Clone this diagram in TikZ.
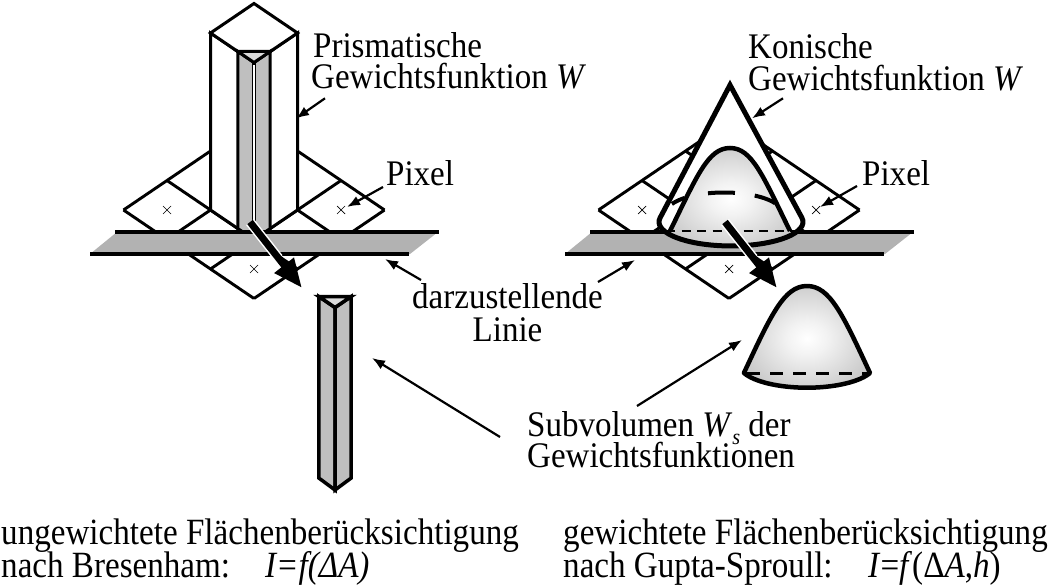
\documentclass[tikz,border=0pt]{standalone}
\usepackage{fontspec}
\setmainfont{Liberation Serif}
\newfontfamily\lblfont[FakeStretch=0.917]{Liberation Serif}
\newfontfamily\btmfont[FakeStretch=0.895]{Liberation Serif}
\usetikzlibrary{arrows.meta,calc}
\definecolor{bandgray}{gray}{0.70}
\definecolor{colgray}{gray}{0.75}
\definecolor{topgray}{gray}{0.86}
\pgfdeclareradialshading{bellshade}{\pgfpoint{0bp}{0bp}}{color(0bp)=(white); color(8bp)=(white!95!black); color(50bp)=(black!40); color(75bp)=(black!40)}
\newcommand{\pixgrid}[1]{%
  \begin{scope}[shift={#1}]
    \fill[white] (0,-88.5) -- (130.5,0) -- (0,88.5) -- (-130.5,0) -- cycle;
    \foreach \k in {-1.5,-0.5,0.5,1.5}{
      \draw[gridline] ({43.5*(\k+1.5)},{29.5*(\k-1.5)}) -- ({43.5*(\k-1.5)},{29.5*(\k+1.5)});
      \draw[gridline] ({43.5*(-1.5-\k)},{29.5*(-1.5+\k)}) -- ({43.5*(1.5-\k)},{29.5*(1.5+\k)});
    }
  \end{scope}}
\newcommand{\pixmark}[1]{\draw[marks] #1 ++(-4,-4) -- ++(8,8) #1 ++(-4,4) -- ++(8,-8);}
\begin{document}
\begin{tikzpicture}[x=1pt,y=-1pt,
  gridline/.style={line width=2.9pt},
  marks/.style={line width=0.7pt},
  edge/.style={line width=3pt, line join=miter},
  ptr/.style={line width=2.2pt, -{Latex[length=13pt,width=10pt]}},
  bigarrow/.style={line width=7pt, -{Triangle[length=29pt,width=23pt]}},
  lbl/.style={font=\lblfont\fontsize{36}{36}\selectfont, inner sep=0pt, anchor=base west},
  lblc/.style={font=\lblfont\fontsize{36}{36}\selectfont, inner sep=0pt, anchor=base},
  btm/.style={font=\btmfont\fontsize{37}{37}\selectfont, inner sep=0pt, anchor=base west}]
\useasboundingbox (0,0) rectangle (1051,585);

% ---------------- left: prismatic weighting function
\pixgrid{(254,210)}
\pixmark{(167,210)} \pixmark{(341,210)} \pixmark{(254,269)}

\coordinate (pT) at (254,3.5);
\coordinate (pL) at (210.5,33);
\coordinate (pR) at (297.5,33);
\coordinate (pF) at (254,62.5);
\coordinate (pBL) at (210.5,210);
\coordinate (pBR) at (297.5,210);
\coordinate (pBF) at (254,239.5);
\filldraw[fill=white, edge] (pL) -- (pF) -- (pBF) -- (pBL) -- cycle;
\filldraw[fill=white, edge] (pR) -- (pF) -- (pBF) -- (pBR) -- cycle;
\filldraw[fill=white, edge] (pT) -- (pL) -- (pF) -- (pR) -- cycle;
\coordinate (cL) at (237.8,51.5);
\coordinate (cR) at (270.2,51.5);
\coordinate (cLb) at (237.8,228.5);
\coordinate (cRb) at (270.2,228.5);
\filldraw[fill=colgray, edge] (cL) -- (pF) -- (pBF) -- (cLb) -- cycle;
\filldraw[fill=colgray, edge] (cR) -- (pF) -- (pBF) -- (cRb) -- cycle;
\filldraw[fill=topgray, edge] (cL) -- (cR) -- (pF) -- cycle;
\draw[line width=4.6pt] (pF) -- (pBF);
\draw[white, line width=1.1pt] ($(pF)+(0,3)$) -- (pBF);

\fill[bandgray] (117,232) -- (438,232) -- (410,254) -- (90,254) -- cycle;
\draw[line width=3.5pt] (115,232) -- (439,232);
\draw[line width=3.5pt] (90,254) -- (409,254);

\coordinate (aL1) at (250,222);
\coordinate (aL2) at (302,288);
\draw[white, line width=10pt] (aL1) -- ($(aL1)!0.55!(aL2)$);
\draw[bigarrow] (aL1) -- (aL2);

% separated prismatic subvolume
\coordinate (sL) at (318.8,296.5);
\coordinate (sR) at (351.2,296.5);
\coordinate (sF) at (335,307.5);
\coordinate (sLb) at (318.8,478);
\coordinate (sRb) at (351.2,478);
\coordinate (sFb) at (335,490);
\filldraw[fill=colgray, line width=3.5pt, line join=miter] (sL) -- (sF) -- (sFb) -- (sLb) -- cycle;
\filldraw[fill=colgray, line width=3.5pt, line join=miter] (sR) -- (sF) -- (sFb) -- (sRb) -- cycle;
\filldraw[fill=topgray, line width=3.5pt, line join=miter] (sL) -- (sR) -- (sF) -- cycle;

% ---------------- right: conical weighting function
\pixgrid{(729,210)}
\pixmark{(642,210)} \pixmark{(816,210)} \pixmark{(729,269)}
\fill[bandgray] (592,232) -- (913,232) -- (885,254) -- (565,254) -- cycle;
\draw[line width=3.5pt] (590,232) -- (914,232);
\draw[line width=3.5pt] (565,254) -- (884,254);

\fill[white] (730,85) -- (660.1,217.8) arc[start angle=190, end angle=-10.2, x radius=72, y radius=24] -- cycle;
\shade[shading=bellshade] (670,231) .. controls (697,176) and (708,148) .. (730,148) .. controls (752,148) and (763,176) .. (790,231) -- (797.7,231) arc[start angle=22, end angle=158, x radius=72, y radius=24] -- cycle;
\draw[line width=4.5pt] (670,231) .. controls (697,176) and (708,148) .. (730,148) .. controls (752,148) and (763,176) .. (790,231);
\draw[line width=2.6pt, dash pattern=on 9pt off 6.5pt] (666,231) -- (797,231);
\draw[line width=4pt, dash pattern=on 14pt off 24pt on 27pt off 20pt on 30pt off 20pt] (671.9,204) arc[start angle=206, end angle=332, x radius=58, y radius=20.5];
\draw[line width=5pt, line join=miter] (730,85) -- (660.1,217.8) arc[start angle=190, end angle=-10.2, x radius=72, y radius=24] -- cycle;

\coordinate (aR1) at (725,222);
\coordinate (aR2) at (777,288);
\draw[white, line width=10pt] (aR1) -- ($(aR1)!0.55!(aR2)$);
\draw[bigarrow] (aR1) -- (aR2);

% separated conical subvolume
\shade[shading=bellshade] (743.9,373) .. controls (771,315) and (784,286) .. (807,286) .. controls (830,286) and (843,315) .. (870,373) arc[start angle=22, end angle=158, x radius=68, y radius=23.5] -- cycle;
\draw[line width=4.5pt, line join=round] (743.9,373) .. controls (771,315) and (784,286) .. (807,286) .. controls (830,286) and (843,315) .. (870,373) arc[start angle=22, end angle=158, x radius=68, y radius=23.5] -- cycle;
\draw[line width=3pt, dash pattern=on 13pt off 10pt] (747,373) -- (868,373);

% ---------------- labels
\node[lbl] (prism1) at (313,58) {Prismatische};
\node[lbl] (prism2) at (311,89) {Gewichtsfunktion \textit{W}};
\node[lbl] (kon1) at (748,59) {Konische};
\node[lbl] (kon2) at (748,90.5) {Gewichtsfunktion \textit{W}};
\node[lbl] (pixL) at (386,186) {Pixel};
\node[lbl] (pixR) at (862,186) {Pixel};
\node[lblc] (darz1) at (507.5,308) {darzustellende};
\node[lblc] (darz2) at (507.5,341) {Linie};
\node[lbl] (sub1) at (527,436) {Subvolumen \textit{W}\raisebox{-8pt}{\fontsize{22}{22}\selectfont\textit{s}} der};
\node[lbl] (sub2) at (527,467) {Gewichtsfunktionen};

\node[btm] (b1) at (1,544) {ungewichtete Flächenberücksichtigung};
\node[btm] (b2) at (1,577) {nach Bresenham:};
\node[btm] (b3) at (265,577) {\textit{I=f(ΔA)}};
\node[btm] (b4) at (563,544) {gewichtete Flächenberücksichtigung};
\node[btm] (b5) at (563,577) {nach Gupta-Sproull:};
\node[btm] (b6) at (868,577) {\textit{I}=\textit{f}(Δ\textit{A},\textit{h})};

% ---------------- pointers
\coordinate (q1s) at (325,98.3);   \coordinate (q1e) at (296,118.5);
\coordinate (q2s) at (383,187);    \coordinate (q2e) at (347,207);
\coordinate (q3s) at (421,280);    \coordinate (q3e) at (385,259);
\coordinate (q4s) at (598,282);    \coordinate (q4e) at (635,260);
\coordinate (q5s) at (783,98.3);   \coordinate (q5e) at (752,118.3);
\coordinate (q6s) at (857,186);    \coordinate (q6e) at (820,207);
\coordinate (q7s) at (500,437);    \coordinate (q7e) at (372,358);
\coordinate (q8s) at (637,406);    \coordinate (q8e) at (742,340);
\foreach \i in {1,...,8}{\draw[ptr] (q\i s) -- (q\i e);}
\end{tikzpicture}
\end{document}
